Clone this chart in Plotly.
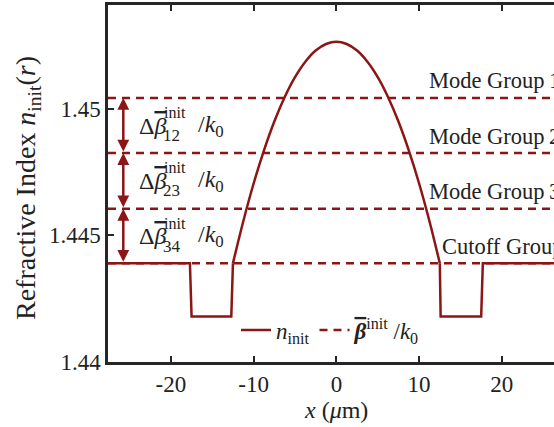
import plotly.graph_objects as go

# ---------------- data ----------------
x_core = [-12.5, -11.25, -10.0, -8.75, -7.5, -6.25, -5.0, -3.75, -2.5, -1.25, 0.0,
          1.25, 2.5, 3.75, 5.0, 6.25, 7.5, 8.75, 10.0, 11.25, 12.5]
n_core = [1.4439, 1.44556, 1.44705, 1.44836, 1.4495, 1.45046, 1.45125, 1.45186, 1.4523, 1.45256, 1.45265,
          1.45256, 1.4523, 1.45186, 1.45125, 1.45046, 1.4495, 1.44836, 1.44705, 1.44556, 1.4439]
x_clad_left = [-27.6, -17.7, -17.5, -12.7, -12.5]
n_clad_left = [1.4439, 1.4439, 1.4418, 1.4418, 1.4439]
x_clad_right = [12.5, 12.6, 17.5, 17.7, 27.6]
n_clad_right = [1.4439, 1.4418, 1.4418, 1.4439, 1.4439]

beta_levels = [1.45043, 1.44825, 1.44605, 1.4439]
group_labels = ["Mode Group\u20091", "Mode Group\u20092", "Mode Group\u20093", "Cutoff Group"]
delta_subs = ["12", "23", "34"]

x_ticks = [-20, -10, 0, 10, 20]
y_ticks = [1.44, 1.445, 1.45]
y_ticktext = ["1.44", "1.445", "1.45"]

X_RANGE = [-27.6, 26.3]
Y_RANGE = [1.44, 1.4541]

# ---------------- styling ----------------
RED = "#8c1515"
AX = "#262626"
TXT = "#222222"
FONT = "Liberation Serif"
W, H = 554, 427
ML, MR, MT, MB = 108, 0, 5, 65
OVL = "<span style='text-decoration:overline'>"

def px(xp):  # pixel -> paper x
    return (xp - ML) / (W - ML - MR)

def py(yp):  # pixel -> paper y
    return (H - MB - yp) / (H - MT - MB)

fig = go.Figure()

fig.add_trace(go.Scatter(x=x_core, y=n_core, mode="lines", line=dict(color=RED, width=2.5, shape="spline"),
                         name="<i>n</i><sub>init</sub>", legendgroup="n"))
fig.add_trace(go.Scatter(x=x_clad_left, y=n_clad_left, mode="lines", line=dict(color=RED, width=2.5),
                         showlegend=False, legendgroup="n"))
fig.add_trace(go.Scatter(x=x_clad_right, y=n_clad_right, mode="lines", line=dict(color=RED, width=2.5),
                         showlegend=False, legendgroup="n"))

bx, by = [], []
for lv in beta_levels:
    bx += [X_RANGE[0], X_RANGE[1] + 2, None]
    by += [lv, lv, None]
fig.add_trace(go.Scatter(x=bx, y=by, mode="lines", line=dict(color=RED, width=2.5, dash="8px,6px"),
                         name=OVL + "<b><i>β</i></b></span><sup>init</sup> /<i>k</i><sub>0</sub>"))

ann = []
# group labels
label_px = [427, 427, 427, 440]
for lv, lab, lx in zip(beta_levels, group_labels, label_px):
    ann.append(dict(x=px(lx), xref="paper", y=lv, yref="y", yshift=17, text=lab, showarrow=False,
                    xanchor="left", yanchor="middle", font=dict(family=FONT, size=22.5, color=TXT)))

# double arrows and delta labels
xa = (123.3 - 336.4) / 8.275
for i, sub in enumerate(delta_subs):
    top, bot = beta_levels[i], beta_levels[i + 1]
    ann.append(dict(x=xa, y=top, xref="x", yref="y", ax=xa, ay=bot, axref="x", ayref="y", text="",
                    showarrow=True, arrowside="end+start", arrowhead=2, startarrowhead=2,
                    arrowsize=0.95, startarrowsize=0.95, arrowwidth=2.5, arrowcolor=RED, standoff=0, startstandoff=0))
    mid = (top + bot) / 2
    ann.append(dict(x=px(137), xref="paper", y=mid, yref="y", text="Δ" + OVL + "<i>β</i></span>", showarrow=False,
                    xanchor="left", yanchor="middle", font=dict(family=FONT, size=24, color=TXT)))
    ann.append(dict(x=px(162), xref="paper", y=mid, yref="y", yshift=13, text="init", showarrow=False,
                    xanchor="left", yanchor="middle", font=dict(family=FONT, size=16, color=TXT)))
    ann.append(dict(x=px(161), xref="paper", y=mid, yref="y", yshift=-10, text=sub, showarrow=False,
                    xanchor="left", yanchor="middle", font=dict(family=FONT, size=17, color=TXT)))
    ann.append(dict(x=px(196), xref="paper", y=mid, yref="y", text="/<i>k</i><sub>0</sub>", showarrow=False,
                    xanchor="left", yanchor="middle", font=dict(family=FONT, size=24, color=TXT)))

# axis titles
ann.append(dict(x=0, xref="x", y=py(410), yref="paper", text="<i>x</i> (<i>μ</i>m)", showarrow=False,
                xanchor="center", yanchor="middle", font=dict(family=FONT, size=24, color=TXT)))
ann.append(dict(x=px(28), xref="paper", y=py(188), yref="paper",
                text="Refractive Index <i>n</i><sub>init</sub>(<i>r</i>)", textangle=-90, showarrow=False,
                xanchor="center", yanchor="middle", font=dict(family=FONT, size=28, color=TXT)))

fig.update_layout(
    width=W, height=H, margin=dict(l=ML, r=MR, t=MT, b=MB),
    paper_bgcolor="white", plot_bgcolor="white",
    font=dict(family=FONT, size=23, color=TXT),
    annotations=ann,
    legend=dict(orientation="h", x=px(236), xanchor="left", y=py(330), yanchor="middle",
                bgcolor="rgba(0,0,0,0)", font=dict(family=FONT, size=23, color=TXT),
                itemwidth=30, tracegroupgap=0),
    xaxis=dict(range=X_RANGE, tickvals=x_ticks, ticktext=[str(v) for v in x_ticks],
               showline=True, linecolor=AX, linewidth=2.5, mirror="ticks",
               ticks="inside", ticklen=6, tickwidth=2, tickcolor=AX,
               showgrid=False, zeroline=False, tickfont=dict(family=FONT, size=23, color=TXT)),
    yaxis=dict(range=Y_RANGE, tickvals=y_ticks, ticktext=y_ticktext,
               showline=True, linecolor=AX, linewidth=2.5, mirror=False,
               ticks="inside", ticklen=6, tickwidth=2, tickcolor=AX,
               showgrid=False, zeroline=False, tickfont=dict(family=FONT, size=23, color=TXT)),
)

fig.write_html("out.html", config={"displayModeBar": False},
               post_script="document.body.style.margin='0px';")
